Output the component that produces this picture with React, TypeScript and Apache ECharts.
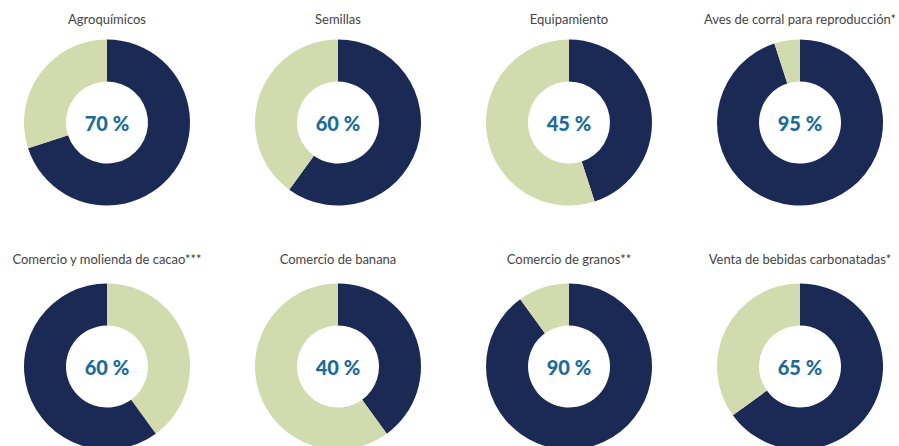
import React, { useEffect, useRef } from "react";
import * as echarts from "echarts";

const titles = [
  "Agroquímicos",
  "Semillas",
  "Equipamiento",
  "Aves de corral para reproducción*",
  "Comercio y molienda de cacao***",
  "Comercio de banana",
  "Comercio de granos**",
  "Venta de bebidas carbonatadas*",
];
const shares = [70, 60, 45, 95, 60, 40, 90, 65];
const darkFirst = [true, true, true, true, false, true, true, true];

const DARK = "#1b2955";
const LIGHT = "#d2dbad";
const LABEL = "#1a6c99";

export default function App() {
  const ref = useRef<HTMLDivElement>(null);
  useEffect(() => {
    document.body.style.margin = "0";
    const chart = echarts.init(ref.current!, undefined, { renderer: "svg" });
    const colX = [107, 338, 569, 800];
    const rowY = [122.5, 366.5];
    const titleTop = [12, 252];
    const series: any[] = [];
    const titleArr: any[] = [];
    titles.forEach((t, i) => {
      const cx = colX[i % 4];
      const row = Math.floor(i / 4);
      titleArr.push({
        text: t,
        left: cx,
        top: titleTop[row],
        textAlign: "center",
        padding: 0,
        textStyle: {
          fontFamily: "Lato",
          fontSize: 13,
          fontWeight: "normal",
          color: "#444",
        },
      });
      const dark = {
        value: shares[i],
        name: "share",
        itemStyle: { color: DARK },
        label: {
          show: true,
          position: "center",
          formatter: `${shares[i]} %`,
          fontFamily: "Lato",
          fontWeight: 900,
          fontSize: 20,
          color: LABEL,
        },
      };
      const light = {
        value: 100 - shares[i],
        name: "rest",
        itemStyle: { color: LIGHT },
        label: { show: false },
      };
      series.push({
        type: "pie",
        center: [cx, rowY[row]],
        radius: [41, 83],
        startAngle: 90,
        clockwise: true,
        silent: true,
        labelLine: { show: false },
        emphasis: { disabled: true },
        data: darkFirst[i] ? [dark, light] : [light, dark],
      });
    });
    chart.setOption({
      animation: false,
      backgroundColor: "#ffffff",
      title: titleArr,
      series,
    });
    return () => chart.dispose();
  }, []);
  return <div ref={ref} style={{ width: 899, height: 446 }} />;
}
